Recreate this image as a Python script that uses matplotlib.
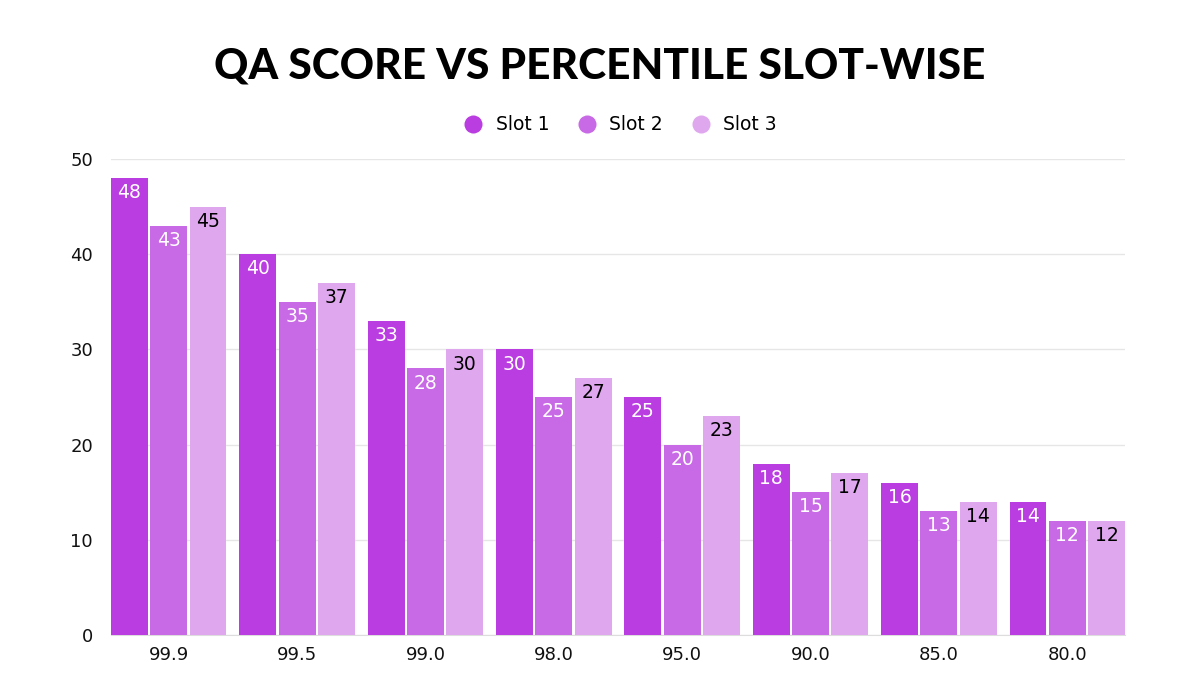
import numpy as np
from matplotlib import pyplot as plt
from matplotlib.lines import Line2D

categories = ['99.9', '99.5', '99.0', '98.0', '95.0', '90.0', '85.0', '80.0']
slot1 = [48, 40, 33, 30, 25, 18, 16, 14]
slot2 = [43, 35, 28, 25, 20, 15, 13, 12]
slot3 = [45, 37, 30, 27, 23, 17, 14, 12]
series = ['Slot 1', 'Slot 2', 'Slot 3']
colors = ['#b93de0', '#c869e5', '#dfa8ee']
label_colors = ['white', 'white', 'black']

fig = plt.figure(figsize=(12, 6.75), dpi=100)
ax = fig.add_axes([0.0925, 0.0593, 0.845, 0.7051])

x = np.arange(len(categories))
w = 0.287
step = 0.306
for i, vals in enumerate([slot1, slot2, slot3]):
    xs = x + (i - 1) * step
    ax.bar(xs, vals, width=w, color=colors[i], label=series[i], zorder=3)
    for xx, v in zip(xs, vals):
        ax.text(xx, v - 0.55, str(v), ha='center', va='top', fontsize=13.5,
                color=label_colors[i], zorder=4)

ax.set_xlim(-0.45, 7.45)
ax.set_ylim(0, 50)
ax.set_yticks([0, 10, 20, 30, 40, 50])
ax.set_xticks(x)
ax.set_xticklabels(categories)
ax.tick_params(axis='both', length=0, labelsize=13, colors='#111111')
ax.tick_params(axis='y', pad=13)
ax.tick_params(axis='x', pad=8)
ax.grid(axis='y', color='#e6e6e6', linewidth=1, zorder=0)
for s in ['top', 'right', 'left']:
    ax.spines[s].set_visible(False)
ax.spines['bottom'].set_color('#dddddd')

fig.text(0.5, 0.902, 'QA SCORE VS PERCENTILE SLOT-WISE', ha='center', va='center',
         fontsize=30.5, fontweight='black', family='Lato')

handles = [Line2D([0], [0], marker='o', color='w', markerfacecolor=c, markersize=14,
                  linestyle='') for c in colors]
fig.legend(handles, series, loc='center', bbox_to_anchor=(0.513, 0.815), ncol=3,
           frameon=False, fontsize=13.5, handletextpad=0.2, columnspacing=1.0)

plt.savefig('out.png')
